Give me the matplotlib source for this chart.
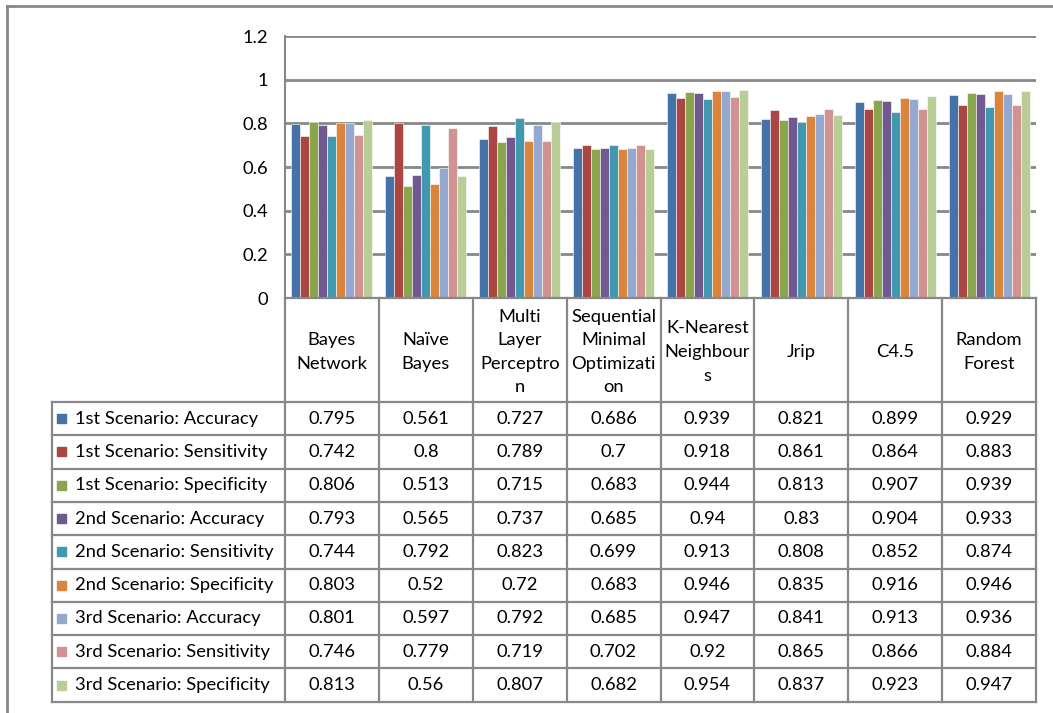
import matplotlib.pyplot as plt
import numpy as np

plt.rcParams['font.family'] = ['Lato', 'DejaVu Sans']

W, H = 1053, 713

classifiers = ["Bayes\nNetwork", "Naïve\nBayes", "Multi\nLayer\nPerceptro\nn",
               "Sequential\nMinimal\nOptimizati\non", "K-Nearest\nNeighbour\ns",
               "Jrip", "C4.5", "Random\nForest"]

series_names = ["1st Scenario: Accuracy", "1st Scenario: Sensitivity", "1st Scenario: Specificity",
                "2nd Scenario: Accuracy", "2nd Scenario: Sensitivity", "2nd Scenario: Specificity",
                "3rd Scenario: Accuracy", "3rd Scenario: Sensitivity", "3rd Scenario: Specificity"]

s1_acc = [0.795, 0.561, 0.727, 0.686, 0.939, 0.821, 0.899, 0.929]
s1_sen = [0.742, 0.8, 0.789, 0.7, 0.918, 0.861, 0.864, 0.883]
s1_spe = [0.806, 0.513, 0.715, 0.683, 0.944, 0.813, 0.907, 0.939]
s2_acc = [0.793, 0.565, 0.737, 0.685, 0.94, 0.83, 0.904, 0.933]
s2_sen = [0.744, 0.792, 0.823, 0.699, 0.913, 0.808, 0.852, 0.874]
s2_spe = [0.803, 0.52, 0.72, 0.683, 0.946, 0.835, 0.916, 0.946]
s3_acc = [0.801, 0.597, 0.792, 0.685, 0.947, 0.841, 0.913, 0.936]
s3_sen = [0.746, 0.779, 0.719, 0.702, 0.92, 0.865, 0.866, 0.884]
s3_spe = [0.813, 0.56, 0.807, 0.682, 0.954, 0.837, 0.923, 0.947]

series = [s1_acc, s1_sen, s1_spe, s2_acc, s2_sen, s2_spe, s3_acc, s3_sen, s3_spe]

colors = ["#4572A7", "#AA4643", "#89A54E", "#71588F", "#4198AF",
          "#DB843D", "#93A9CF", "#D19392", "#B9CD96"]

grid_c = "#888888"

# layout in pixels
x0, x1 = 285, 1036          # plot / table columns
y_top, y_base = 36, 298     # 1.2 and 0 levels
lab_x = 52                  # left edge of the legend column
head_bot = 402
row_h = 33.3
fs = 13.2

fig = plt.figure(figsize=(W / 100, H / 100), dpi=100)

ax = fig.add_axes([x0 / W, 1 - y_base / H, (x1 - x0) / W, (y_base - y_top) / H])
n_cls = len(classifiers)
n_ser = len(series)
bw = 0.096
idx = np.arange(n_cls)
for i, (vals, c) in enumerate(zip(series, colors)):
    ax.bar(idx + (i - (n_ser - 1) / 2) * bw, vals, bw, color=c,
           edgecolor="white", linewidth=0.4, zorder=3)

ax.set_xlim(-0.5, n_cls - 0.5)
ax.set_ylim(0, 1.2)
ax.set_yticks(np.arange(0, 1.21, 0.2))
ax.set_yticklabels(["0", "0.2", "0.4", "0.6", "0.8", "1", "1.2"], fontsize=fs)
ax.tick_params(axis="y", length=0, pad=12)
ax.set_xticks([])
ax.yaxis.grid(True, color=grid_c, linewidth=2, zorder=1)
for side in ["top", "right", "bottom"]:
    ax.spines[side].set_visible(False)
ax.spines["left"].set_color(grid_c)
ax.spines["left"].set_linewidth(1.5)

# data table drawn on an overlay in pixel coordinates
tab = fig.add_axes([0, 0, 1, 1], zorder=5)
tab.set_xlim(0, W)
tab.set_ylim(H, 0)
tab.axis("off")
tab.patch.set_alpha(0)

col_w = (x1 - x0) / n_cls
col_x = [x0 + k * col_w for k in range(n_cls + 1)]
row_y = [head_bot + k * row_h for k in range(n_ser + 1)]

lw = 1.6
tab.plot([x0, x1], [y_base, y_base], color=grid_c, lw=lw)
for cx in col_x:
    tab.plot([cx, cx], [y_base, row_y[-1]], color=grid_c, lw=lw)
tab.plot([lab_x, lab_x], [head_bot, row_y[-1]], color=grid_c, lw=lw)
for ry in row_y:
    tab.plot([lab_x, x1], [ry, ry], color=grid_c, lw=lw)

for k, name in enumerate(classifiers):
    tab.text((col_x[k] + col_x[k + 1]) / 2, (y_base + head_bot) / 2 + 2, name,
             ha="center", va="center", fontsize=fs, linespacing=1.58)

for r, (name, vals, c) in enumerate(zip(series_names, series, colors)):
    yc = (row_y[r] + row_y[r + 1]) / 2
    tab.add_patch(plt.Rectangle((57, yc - 4.5), 9, 9, color=c))
    tab.text(75, yc, name, ha="left", va="center", fontsize=fs)
    for k, v in enumerate(vals):
        tab.text((col_x[k] + col_x[k + 1]) / 2, yc, f"{v:g}",
                 ha="center", va="center", fontsize=fs)

# outer chart frame
tab.plot([7, 7], [6, H], color=grid_c, lw=2)
tab.plot([7, W], [6, 6], color=grid_c, lw=2)

fig.savefig("out.png", dpi=100)
